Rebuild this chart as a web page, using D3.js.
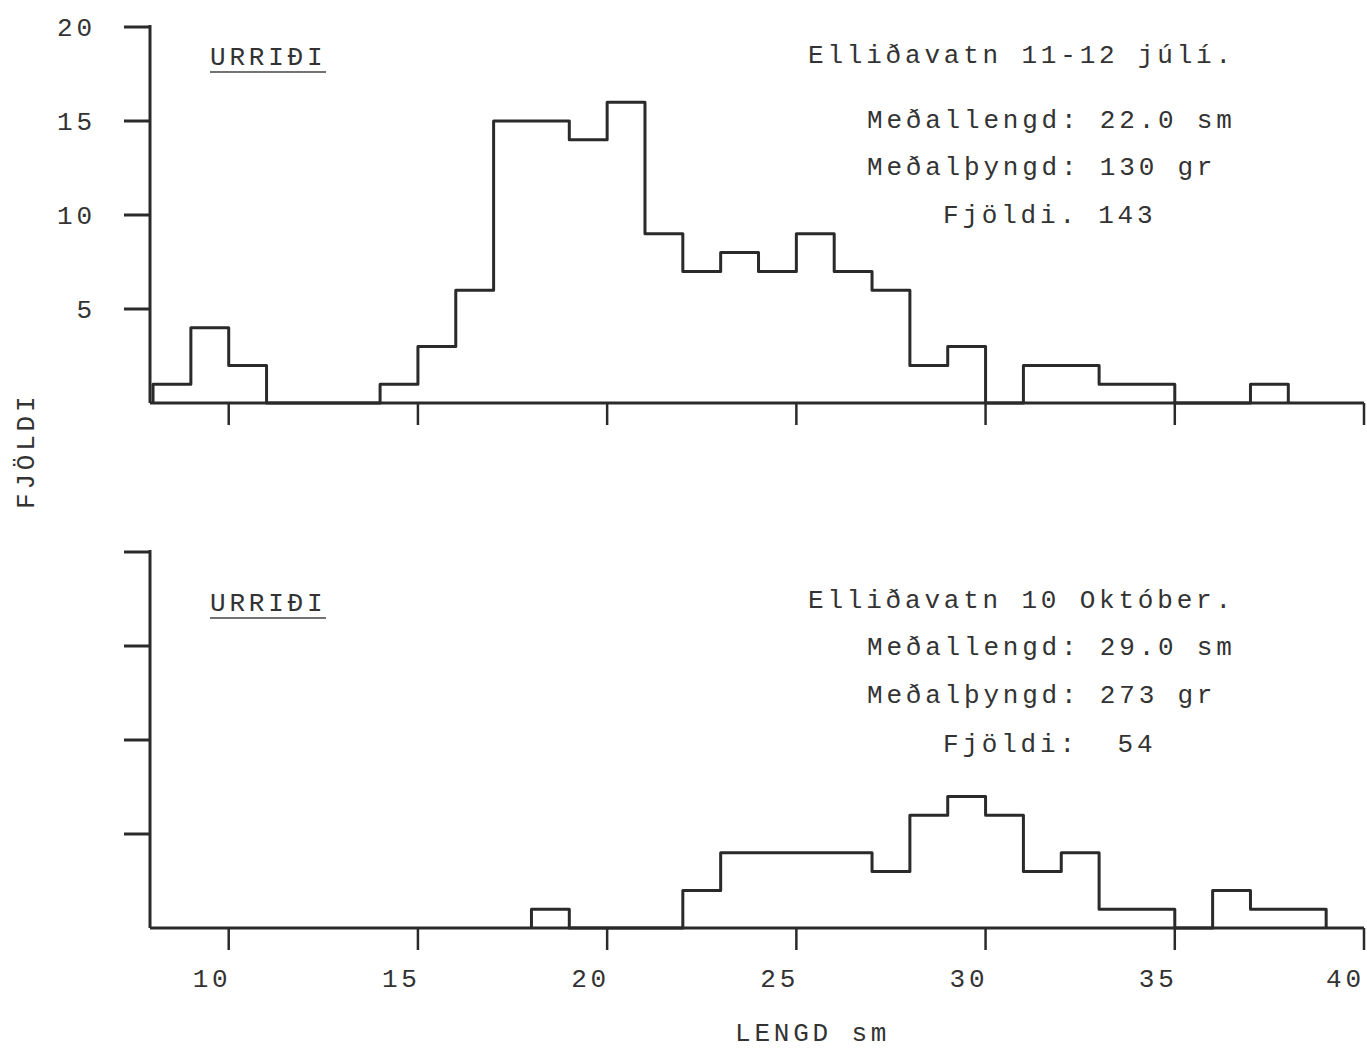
<!DOCTYPE html>
<html>
<head>
<meta charset="utf-8" />
<title>Urriði - Elliðavatn</title>
<script src="https://cdn.jsdelivr.net/npm/d3@7"></script>
<style>
  body { margin: 0; background: #fff; }
  svg text { font-family: "Liberation Mono", "DejaVu Sans Mono", monospace; fill: #333; white-space: pre; }
</style>
</head>
<body>
<div id="chart"></div>
<script>
// bin start (sm), 1 sm wide bins
var binsJuli = [8, 9, 10, 11, 12, 13, 14, 15, 16, 17, 18, 19, 20, 21, 22, 23, 24, 25, 26, 27, 28, 29, 30, 31, 32, 33, 34, 35, 36, 37];
var countsJuli = [1, 4, 2, 0, 0, 0, 1, 3, 6, 15, 15, 14, 16, 9, 7, 8, 7, 9, 7, 6, 2, 3, 0, 2, 2, 1, 1, 0, 0, 1];

var binsOkt = [18, 19, 20, 21, 22, 23, 24, 25, 26, 27, 28, 29, 30, 31, 32, 33, 34, 35, 36, 37, 38];
var countsOkt = [1, 0, 0, 0, 2, 4, 4, 4, 4, 3, 6, 7, 6, 3, 4, 1, 1, 0, 2, 1, 1];

var xTicks = [10, 15, 20, 25, 30, 35, 40];
var yTicks = [5, 10, 15, 20];
var yTickLabels = ["5", "10", "15", "20"];

var textJuli = ["Elliðavatn 11-12 júlí.", "Meðallengd: 22.0 sm", "Meðalþyngd: 130 gr", "Fjöldi. 143"];
var textOkt = ["Elliðavatn 10 Október.", "Meðallengd: 29.0 sm", "Meðalþyngd: 273 gr", "Fjöldi:  54"];

var W = 1367, H = 1052;
var ink = "#2a2a2a";
var fs = 26, ls = 3.8;

var svg = d3.select("#chart").append("svg")
  .attr("width", W).attr("height", H);

var x = d3.scaleLinear().domain([7.92, 40]).range([150, 1364]);

function label(g, px, py, t) {
  return g.append("text").attr("x", px).attr("y", py)
    .attr("xml:space", "preserve")
    .style("font-size", fs + "px").style("letter-spacing", ls + "px")
    .text(t);
}

function panel(bins, counts, y0, showYLabels, opts) {
  var y = d3.scaleLinear().domain([0, 20]).range([y0, y0 - 376]);
  var g = svg.append("g");

  // step outline of the histogram
  var pts = [[bins[0], 0]];
  for (var i = 0; i < bins.length; i++) {
    pts.push([bins[i], counts[i]]);
    pts.push([bins[i] + 1, counts[i]]);
  }
  pts.push([bins[bins.length - 1] + 1, 0]);
  g.append("path")
    .attr("d", d3.line().x(function (d) { return x(d[0]); }).y(function (d) { return y(d[1]); })(pts))
    .attr("fill", "none").attr("stroke", ink).attr("stroke-width", 3)
    .attr("stroke-linejoin", "round");

  // x axis
  g.append("line")
    .attr("x1", x(7.92)).attr("x2", x(40)).attr("y1", y(0)).attr("y2", y(0))
    .attr("stroke", ink).attr("stroke-width", 3);
  g.selectAll(".xt").data(xTicks).enter().append("line")
    .attr("x1", function (d) { return x(d); }).attr("x2", function (d) { return x(d); })
    .attr("y1", y(0)).attr("y2", y(0) + 22)
    .attr("stroke", ink).attr("stroke-width", 2.5);

  // y axis
  g.append("line")
    .attr("x1", x(7.92)).attr("x2", x(7.92)).attr("y1", y(0)).attr("y2", y(20) - 2)
    .attr("stroke", ink).attr("stroke-width", 3);
  g.selectAll(".yt").data(yTicks).enter().append("line")
    .attr("x1", x(7.92) - 26).attr("x2", x(7.92))
    .attr("y1", function (d) { return y(d); }).attr("y2", function (d) { return y(d); })
    .attr("stroke", ink).attr("stroke-width", 3);

  if (showYLabels) {
    g.selectAll(".yl").data(yTicks).enter().append("text")
      .attr("x", 92 + ls).attr("y", function (d) { return y(d) + 9; })
      .attr("text-anchor", "end")
      .style("font-size", fs + "px").style("letter-spacing", ls + "px")
      .text(function (d, i) { return yTickLabels[i]; });
  }

  // species label, underlined
  var top = y0 - 403;
  label(g, 210, top + opts.sy, "URRIÐI");
  g.append("line").attr("x1", 210).attr("x2", 326)
    .attr("y1", top + opts.sy + 7).attr("y2", top + opts.sy + 7)
    .attr("stroke", "#444").attr("stroke-width", 1.5);

  var lx = [808, 867, 867, 943];
  opts.t.forEach(function (t, i) {
    label(g, lx[i], top + opts.ly[i], t);
  });
  return y;
}

panel(binsJuli, countsJuli, 403, true, { t: textJuli, ly: [63, 128, 175, 223], sy: 65 });
panel(binsOkt, countsOkt, 928, false, { t: textOkt, ly: [83, 130, 178, 227], sy: 86 });

// x tick labels under the lower panel
svg.selectAll(".xl").data(xTicks).enter().append("text")
  .attr("x", function (d) { return Math.min(x(d) + ls - 1, W - 6 + ls); })
  .attr("y", 987)
  .attr("text-anchor", "end")
  .style("font-size", fs + "px").style("letter-spacing", ls + "px")
  .text(function (d) { return d; });

label(svg, 735, 1041, "LENGD sm");

svg.append("text")
  .attr("transform", "translate(34,509) rotate(-90)")
  .style("font-size", fs + "px").style("letter-spacing", ls + "px")
  .text("FJÖLDI");
</script>
</body>
</html>
